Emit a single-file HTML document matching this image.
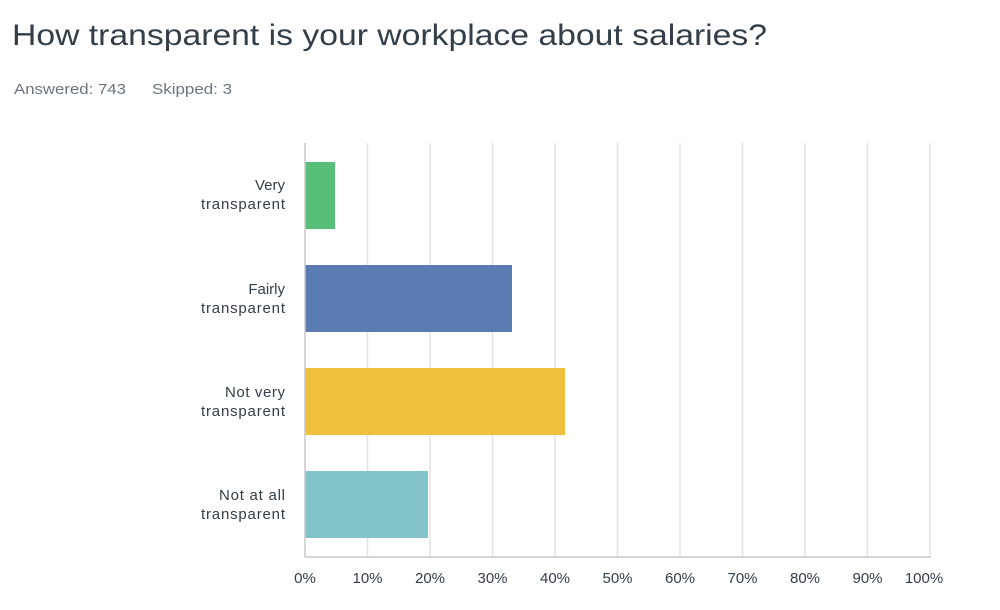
<!DOCTYPE html>
<html><head><meta charset="utf-8"><style>
html,body{margin:0;padding:0;background:#fff;width:1000px;height:610px;overflow:hidden}
text{font-family:"Liberation Sans",sans-serif}
</style></head><body>
<svg width="1000" height="610" xmlns="http://www.w3.org/2000/svg">
<text x="12" y="45" font-size="30" fill="#333e48" textLength="755" lengthAdjust="spacingAndGlyphs">How transparent is your workplace about salaries?</text>
<text x="14" y="94" font-size="15" fill="#6b7680" textLength="112" lengthAdjust="spacingAndGlyphs">Answered: 743</text>
<text x="152" y="94" font-size="15" fill="#6b7680" textLength="80" lengthAdjust="spacingAndGlyphs">Skipped: 3</text>
<g stroke="#e3e3e3" stroke-width="1.5">
<line x1="367.5" y1="143" x2="367.5" y2="557"/><line x1="430" y1="143" x2="430" y2="557"/>
<line x1="492.5" y1="143" x2="492.5" y2="557"/><line x1="555" y1="143" x2="555" y2="557"/>
<line x1="617.5" y1="143" x2="617.5" y2="557"/><line x1="680" y1="143" x2="680" y2="557"/>
<line x1="742.5" y1="143" x2="742.5" y2="557"/><line x1="805" y1="143" x2="805" y2="557"/>
<line x1="867.5" y1="143" x2="867.5" y2="557"/><line x1="930" y1="143" x2="930" y2="557"/>
</g>
<rect x="305" y="162" width="30" height="67" fill="#57bf79"/>
<rect x="305" y="265" width="207" height="67" fill="#5b7bb3"/>
<rect x="305" y="368" width="260" height="67" fill="#efc03e"/>
<rect x="305" y="471" width="123" height="67" fill="#82c4ca"/>
<line x1="305" y1="143" x2="305" y2="557" stroke="#c8c8c8" stroke-width="1.5"/>
<line x1="305" y1="557" x2="931" y2="557" stroke="#c8c8c8" stroke-width="1.5"/>
<g font-size="15" fill="#333e48" text-anchor="end">
<text x="285" y="190">Very</text><text x="285" y="209" textLength="84">transparent</text>
<text x="285" y="294">Fairly</text><text x="285" y="313" textLength="84">transparent</text>
<text x="285" y="397" textLength="60">Not very</text><text x="285" y="416" textLength="84">transparent</text>
<text x="285" y="500" textLength="66">Not at all</text><text x="285" y="519" textLength="84">transparent</text>
</g>
<g font-size="15" fill="#333e48" text-anchor="middle">
<text x="305" y="583">0%</text><text x="367.5" y="583">10%</text><text x="430" y="583">20%</text>
<text x="492.5" y="583">30%</text><text x="555" y="583">40%</text><text x="617.5" y="583">50%</text>
<text x="680" y="583">60%</text><text x="742.5" y="583">70%</text><text x="805" y="583">80%</text>
<text x="867.5" y="583">90%</text><text x="924" y="583">100%</text>
</g>
</svg>
</body></html>
